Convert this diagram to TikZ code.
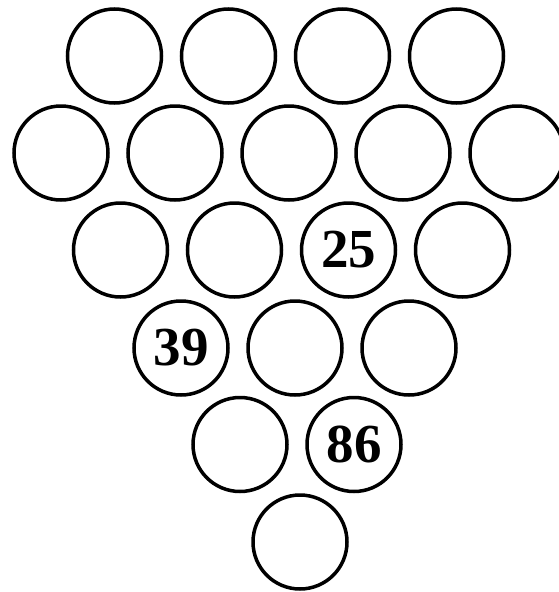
\documentclass[tikz,border=0pt]{standalone}
\usepackage{fontspec}
\setmainfont{Liberation Serif}

\begin{document}
\begin{tikzpicture}[x=1pt, y=-1pt,
  ball/.style={circle, draw, line width=3.5pt, minimum size=94pt, inner sep=0pt},
  num/.style={font=\fontsize{55}{55}\selectfont\bfseries, inner sep=0pt}]
  \useasboundingbox (0,0) rectangle (558,592);
  % rows of circles: row / first x / y / count
  \foreach \r/\sx/\yy/\n in {1/114.5/56/4, 2/61/153/5, 3/120.5/250/4,
                             4/181/348/3, 5/240/444.5/2, 6/300/542/1} {
    \foreach \c in {1,...,\n}
      \node[ball] (b\r\c) at ({\sx+(\c-1)*114},\yy) {};
  }
  % given numbers
  \node[num] (n25) at (b33) {25};
  \node[num] (n39) at (b41) {39};
  \node[num] (n86) at (b52) {86};
\end{tikzpicture}
\end{document}
